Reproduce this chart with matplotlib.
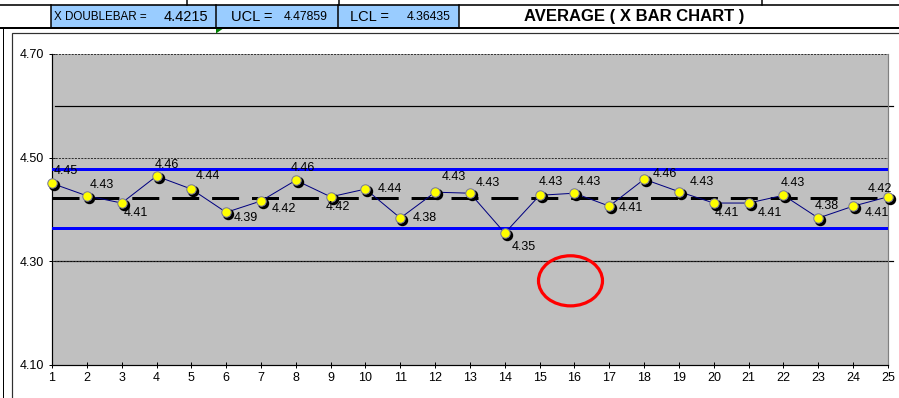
import matplotlib
matplotlib.use("Agg")
import matplotlib.pyplot as plt
import matplotlib.transforms as mtransforms
from matplotlib.patches import Rectangle, Ellipse, Polygon
from matplotlib.ticker import FixedLocator, FormatStrFormatter

# ---- data ----------------------------------------------------------------
samples = list(range(1, 26))
sample_means = [4.450, 4.426, 4.412, 4.464, 4.439, 4.394, 4.416, 4.456, 4.424,
                4.439, 4.383, 4.433, 4.431, 4.354, 4.427, 4.431, 4.406, 4.458,
                4.434, 4.412, 4.412, 4.427, 4.383, 4.406, 4.424]
x_doublebar = 4.4215
ucl = 4.47859
lcl = 4.36435
reference_levels = [4.60, 4.30]
y_ticks = [4.10, 4.30, 4.50, 4.70]
title = "AVERAGE ( X BAR CHART )"

# label offsets (pixels) of each point label from its marker
label_offsets = [(14, 12), (15, 11), (14, -10), (10, 11), (17, 13), (20, -6),
                 (23, -8), (7, 12), (7, -10), (24, 0), (24, 0), (19, 15),
                 (18, 10), (19, -14), (11, 13), (14, 11), (22, -2), (21, 5),
                 (23, 10), (13, -10), (21, -10), (9, 12), (8, 12), (24, -7),
                 (-8, 8)]

W, H = 899, 398
plt.rcParams['font.family'] = ['Liberation Sans', 'DejaVu Sans']

fig = plt.figure(figsize=(W / 100, H / 100), dpi=100)

# ---- worksheet background (pixel coordinates) ----------------------------
bg = fig.add_axes([0, 0, 1, 1])
bg.set_xlim(0, W)
bg.set_ylim(H, 0)
bg.axis('off')

px = 0.72  # one pixel in points
bg.add_patch(Rectangle((50.5, 4.5), 408.5, 23.5, facecolor='#99CCFF',
                       edgecolor='none', zorder=1))
bg.plot([0, W], [4.5, 4.5], color='black', lw=1.6 * px, zorder=2)
bg.plot([0, W], [28, 28], color='black', lw=2 * px, zorder=2)
for xv in (187, 339, 762):
    bg.plot([xv, xv], [0, 4.5], color='black', lw=1.5 * px, zorder=2)
for xv in (50.5, 216, 337.5, 459):
    bg.plot([xv, xv], [4.5, 28], color='black', lw=1.5 * px, zorder=2)
bg.plot([3, 3], [28, H], color='black', lw=1 * px, zorder=2)
bg.add_patch(Rectangle((12, 33), 900, 400, facecolor='white',
                       edgecolor='#303030', lw=1.2 * px, zorder=1))
bg.add_patch(Polygon([(216, 29), (222.5, 29), (216, 33.5)], closed=True,
                     facecolor='#008000', edgecolor='none', zorder=3))

ty = 16.8
bg.text(54, ty, "X DOUBLEBAR =", fontsize=8.4, va='center', ha='left')
bg.text(208, ty, f"{x_doublebar:.4f}", fontsize=10.5, va='center', ha='right')
bg.text(231, ty, "UCL =", fontsize=10.5, va='center', ha='left')
bg.text(328, ty, f"{ucl:.5f}", fontsize=8.8, va='center', ha='right')
bg.text(350, ty, "LCL =", fontsize=10.5, va='center', ha='left')
bg.text(451, ty, f"{lcl:.5f}", fontsize=8.8, va='center', ha='right')
bg.text(634, ty, title, fontsize=12, fontweight='bold', va='center', ha='center')

# ---- chart --------------------------------------------------------------
x0, x1, ytop, ybot = 52, 888, 54, 364.5
ax = fig.add_axes([x0 / W, 1 - ybot / H, (x1 - x0) / W, (ybot - ytop) / H])
ax.set_facecolor('#C0C0C0')
ax.set_xlim(1, 25)
ax.set_ylim(4.10, 4.70)

for s in ('left', 'bottom'):
    ax.spines[s].set_color('black')
    ax.spines[s].set_linewidth(1.2 * px)
ax.spines['top'].set_visible(False)
ax.spines['right'].set_color('#808080')
ax.spines['right'].set_linewidth(1.2 * px)

ax.xaxis.set_major_locator(FixedLocator(samples))
ax.yaxis.set_major_locator(FixedLocator(y_ticks))
ax.yaxis.set_major_formatter(FormatStrFormatter('%.2f'))
ax.tick_params(axis='both', direction='inout', length=5, width=1 * px,
               labelsize=9, colors='black')
ax.tick_params(axis='x', pad=3)
ax.tick_params(axis='y', pad=3)

for yv in y_ticks[1:]:
    ax.axhline(yv, color='#303030', lw=1 * px, ls=(0, (2, 1.2)), zorder=2)

for yv in reference_levels:
    ax.axhline(yv, xmin=3 / (x1 - x0), xmax=(893 - x0) / (x1 - x0),
               color='black', lw=1.2 * px, clip_on=False, zorder=1.5)

ax.axhline(ucl, color='#0000FF', lw=3 * px, zorder=3)
ax.axhline(lcl, color='#0000FF', lw=3 * px, zorder=3)
ax.axhline(x_doublebar, color='black', lw=3 * px, ls=(0, (9, 4.3)), zorder=3)

ax.plot(samples, sample_means, color='#000080', lw=1 * px, zorder=4)

shadow = mtransforms.offset_copy(ax.transData, fig=fig, x=2, y=-2, units='dots')
ax.plot(samples, sample_means, ls='none', marker='o', ms=7.2, mfc='black',
        mec='black', transform=shadow, zorder=5, clip_on=False)
ax.plot(samples, sample_means, ls='none', marker='o', ms=6.8, mfc='#FFFF00',
        mec='#7878A0', mew=1 * px, zorder=6, clip_on=False)

for xv, yv, (dx, dy) in zip(samples, sample_means, label_offsets):
    ax.annotate(f"{yv:.2f}", (xv, yv), xytext=(dx, dy),
                textcoords='offset pixels', ha='center', va='center',
                fontsize=9, zorder=7, annotation_clip=False)

ax.add_patch(Ellipse((15.885, 4.2617), 1.837, 0.0968, facecolor='none',
                     edgecolor='#FF0000', lw=3.2 * px, zorder=8))

fig.savefig("out.png", dpi=100)
